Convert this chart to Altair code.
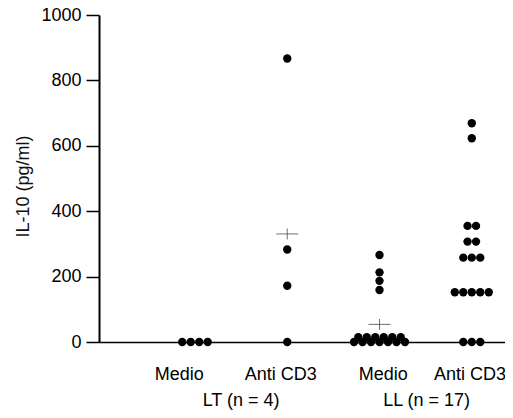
import altair as alt
import pandas as pd

# ---- data ----
groups = ["LT Medio", "LT Anti CD3", "LL Medio", "LL Anti CD3"]
group_pos = [1, 2, 3, 4]
lt_medio = [0, 0, 0, 0]
lt_anti = [0, 172, 283, 867]
ll_medio = [0, 0, 0, 0, 0, 0, 0, 15, 15, 15, 15, 15, 15, 159, 187, 213, 266]
ll_anti = [0, 0, 0, 152, 152, 152, 152, 152, 258, 258, 258, 307, 307, 355, 355, 623, 669]
cat_labels = ["Medio", "Anti CD3", "Medio", "Anti CD3"]
cat_label_pos = [0.83, 1.93, 3.04, 3.98]
grp_labels = ["LT (n = 4)", "LL (n = 17)"]
grp_label_pos = [1.5, 3.51]
y_ticks = [0, 200, 400, 600, 800, 1000]
mean_shown = ["LT Anti CD3", "LL Medio"]  # groups whose mean marker is visible

step = 0.092  # horizontal spacing between tied dots (in x units)

rows = []
means = []
for g, pos, vals in zip(groups, group_pos, [lt_medio, lt_anti, ll_medio, ll_anti]):
    counts = {}
    for v in vals:
        counts[v] = counts.get(v, 0) + 1
    for v, n in counts.items():
        for k in range(n):
            rows.append({"group": g, "x": pos + (k - (n - 1) / 2) * step, "y": v})
    if g in mean_shown:
        means.append({"group": g, "x": pos, "y": sum(vals) / len(vals)})

dots = pd.DataFrame(rows)
mean_df = pd.DataFrame(means)
cat_df = pd.DataFrame({"label": cat_labels, "x": cat_label_pos})
grp_df = pd.DataFrame({"label": grp_labels, "x": grp_label_pos})

FONT = "Liberation Sans"
xscale = alt.Scale(domain=[-0.04, 4.36], nice=False, zero=False)
yscale = alt.Scale(domain=[0, 1000], nice=False)

X_AX = alt.Axis(labels=False, ticks=False, title=None, grid=False,
                domainColor="black", domainWidth=1.5)
Y_AX = alt.Axis(values=y_ticks, format="d", title="IL-10 (pg/ml)", grid=False,
                tickSize=13, tickColor="black", tickWidth=1.5,
                domainColor="black", domainWidth=2,
                labelFontSize=18, labelColor="black", labelFont=FONT,
                labelPadding=5, titleFontSize=18, titleFont=FONT,
                titleFontWeight="normal", titleColor="#111",
                titleAngle=-90, titleAlign="center", titleBaseline="alphabetic",
                titleX=-71, titleY=171)

mean_h = alt.Chart(mean_df).mark_tick(orient="horizontal", size=22, thickness=1, color="#333").encode(
    x=alt.X("x:Q", scale=xscale, axis=X_AX),
    y=alt.Y("y:Q", scale=yscale, axis=Y_AX),
)
mean_v = alt.Chart(mean_df).mark_tick(orient="vertical", size=11, thickness=1, color="#333").encode(
    x=alt.X("x:Q", scale=xscale),
    y=alt.Y("y:Q", scale=yscale),
)

points = alt.Chart(dots).mark_circle(size=70, color="black", opacity=1).encode(
    x=alt.X("x:Q", scale=xscale),
    y=alt.Y("y:Q", scale=yscale),
)

cat_text = alt.Chart(cat_df).mark_text(fontSize=18, font=FONT, color="black", baseline="alphabetic").encode(
    x=alt.X("x:Q", scale=xscale),
    y=alt.value(365),
    text="label:N",
)
grp_text = alt.Chart(grp_df).mark_text(fontSize=18, font=FONT, color="black", baseline="alphabetic").encode(
    x=alt.X("x:Q", scale=xscale),
    y=alt.value(391),
    text="label:N",
)

chart = alt.layer(mean_h, mean_v, points, cat_text, grp_text).properties(
    width=406,
    height=327,
    autosize=alt.AutoSizeParams(type="none"),
    padding={"left": 91, "top": 7, "right": 0, "bottom": 68},
    background="white",
).configure_view(stroke=None)

chart.save("out.html", embed_options={"renderer": "svg", "actions": False})
